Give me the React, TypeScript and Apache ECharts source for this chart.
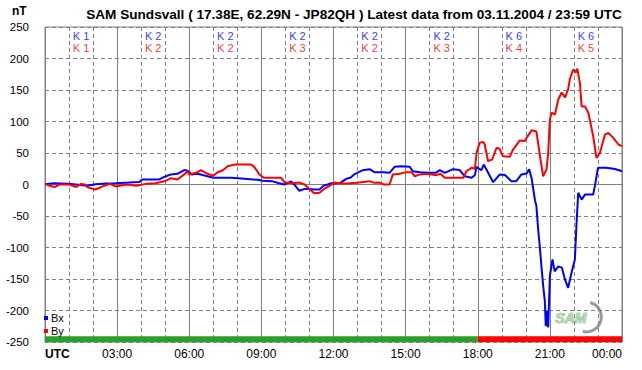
import React, { useEffect, useRef } from "react";
import * as echarts from "echarts";

const titleText = "SAM Sundsvall ( 17.38E, 62.29N - JP82QH ) Latest data from 03.11.2004 / 23:59 UTC";
const xTickLabels = ["UTC", "03:00", "06:00", "09:00", "12:00", "15:00", "18:00", "21:00", "00:00"];

const bxData: number[][] = [
  [0, 0.6], [0.375, 2], [1.0, 1], [1.28, 0], [1.76, -2], [2.11, 0.5], [2.53, 1.6], [2.94, 2],
  [3.5, 3], [3.92, 4], [4.05, 8], [4.75, 8], [4.96, 12], [5.24, 16], [5.51, 17], [5.79, 23],
  [5.93, 22], [6.1, 16], [6.35, 17], [6.76, 13], [7.0, 10.6], [7.74, 10.6], [8.3, 9], [8.85, 7.4],
  [9.05, 5.8], [9.47, 5], [9.74, 2], [9.96, 0], [10.24, 5], [10.4, -1.5], [10.58, -10], [10.8, -7],
  [11.0, -7], [11.2, -8], [11.42, -8], [11.6, -1.5], [11.76, 0], [11.9, 2], [12.1, 1.6], [12.3, 3],
  [12.53, 9], [12.7, 10.6], [12.86, 16], [13.22, 22.7], [13.5, 24.3], [13.7, 19.6], [14.1, 19.6],
  [14.33, 18.5], [14.54, 28], [14.82, 29], [15.17, 28], [15.3, 21], [15.6, 19.6], [15.93, 18.5],
  [16.25, 18.5], [16.42, 22.7], [16.63, 18.5], [16.97, 24.3], [17.25, 23], [17.46, 13], [17.74, 10.6],
  [17.88, 14.8], [17.95, 28], [18.08, 24.3], [18.15, 22.7], [18.25, 31.7], [18.4, 21], [18.64, 3.7],
  [18.92, 16], [19.13, 15], [19.4, 5.3], [19.6, 5.3], [19.82, 16], [20.03, 17.5], [20.14, 24],
  [20.24, 10], [20.38, -25], [20.44, -34], [20.51, -70], [20.58, -98], [20.65, -130], [20.72, -160],
  [20.79, -185], [20.83, -225], [20.88, -200], [20.93, -227], [21.0, -145], [21.11, -119], [21.2, -138],
  [21.35, -130], [21.5, -132], [21.63, -151], [21.76, -164], [21.9, -140], [22.04, -119], [22.11, -61],
  [22.18, -13], [22.32, -24], [22.46, -16], [22.8, -16], [22.87, -3], [23.0, 26.5], [23.35, 26.5],
  [23.71, 24.5], [24.0, 21],
];

const byData: number[][] = [
  [0, 0.6], [0.2, -2], [0.4, -4], [0.6, 0], [1.0, 0], [1.3, -4], [1.5, 1], [1.65, 0], [1.8, -5],
  [2.1, -8], [2.4, -3], [2.7, 1], [2.94, -3], [3.4, 0], [3.8, -2], [4.2, 1], [4.6, 2], [4.96, 5],
  [5.24, 10], [5.51, 8], [5.79, 16], [5.93, 21], [6.0, 16], [6.35, 19.5], [6.49, 22.7], [6.76, 17],
  [7.0, 14], [7.18, 19.5], [7.4, 22.7], [7.6, 29], [7.9, 31.7], [8.57, 31.7], [8.7, 28], [8.92, 16],
  [9.1, 10.6], [9.82, 10.6], [9.96, 3.7], [10.24, 2], [10.58, 3], [10.8, 0], [11.0, -7], [11.2, -14],
  [11.42, -13], [11.6, -7], [11.8, -3], [12.04, 3], [12.3, 1.6], [12.53, 1.6], [13.0, 2.6], [13.5, 5.3],
  [13.7, 2.6], [13.9, 3], [14.1, 0], [14.33, 0], [14.47, 16], [14.75, 17], [15.03, 19.6], [15.25, 19.6],
  [15.38, 13], [15.6, 16], [15.86, 17], [16.28, 14.8], [16.45, 17], [16.63, 10.6], [17.1, 10.6],
  [17.4, 10.6], [17.53, 21], [17.74, 26.5], [17.88, 25], [17.95, 50], [18.08, 66], [18.22, 67.7],
  [18.29, 63.5], [18.43, 37], [18.6, 39.7], [18.78, 58], [18.9, 57], [19.05, 45], [19.33, 44],
  [19.47, 55.5], [19.75, 70], [19.95, 69], [20.1, 78], [20.24, 86], [20.44, 84], [20.61, 40],
  [20.72, 13], [20.86, 24], [20.93, 50], [21.0, 103], [21.07, 114], [21.21, 111], [21.35, 135],
  [21.49, 146], [21.63, 138], [21.76, 151], [21.83, 167], [21.97, 182.5], [22.08, 178], [22.14, 184],
  [22.25, 161], [22.32, 124], [22.46, 124], [22.6, 114], [22.8, 77], [22.94, 42], [23.08, 50],
  [23.29, 79], [23.43, 82], [23.64, 74], [23.85, 63.5], [24.0, 61],
];

const kHours = [1.5, 4.5, 7.5, 10.5, 13.5, 16.5, 19.5, 22.5];
const kBx = [1, 2, 2, 2, 2, 2, 6, 6];
const kBy = [1, 2, 2, 3, 2, 3, 4, 5];
const kRowBx = 235;
const kRowBy = 216;

const statusSegments: [number, number, string][] = [
  [0, 18, "#2a9e2a"],
  [18, 24, "#ff0000"],
];

const FONT = "Liberation Sans, Arial, sans-serif";

export default function App() {
  const ref = useRef<HTMLDivElement>(null);
  useEffect(() => {
    if (!ref.current) return;
    const chart = echarts.init(ref.current, null, { renderer: "svg" });
    const kLabel = (color: string) => ({
      show: true,
      position: "inside",
      formatter: "{b}",
      color,
      fontSize: 11,
      lineHeight: 10,
      fontFamily: FONT,
    });
    chart.setOption({
      animation: false,
      backgroundColor: "#ffffff",
      textStyle: { fontFamily: FONT },
      title: {
        text: titleText,
        left: 349,
        textAlign: "center",
        top: 2,
        textStyle: { fontSize: 13.6, fontWeight: "bold", color: "#000", fontFamily: FONT },
      },
      legend: {
        data: ["Bx", "By"],
        orient: "vertical",
        left: 44,
        top: 312,
        icon: "rect",
        itemWidth: 4,
        itemHeight: 4,
        itemGap: 1,
        padding: 0,
        textStyle: { fontSize: 11, color: "#000", fontFamily: FONT, padding: [0, 0, 0, -2], lineHeight: 12 },
      },
      grid: {
        left: 45,
        top: 27,
        right: 20,
        bottom: 28,
        show: true,
        borderColor: "#808080",
        borderWidth: 1,
        backgroundColor: "transparent",
      },
      xAxis: [
        {
          type: "value",
          min: 0,
          max: 24,
          interval: 1,
          axisLine: { show: false },
          axisTick: { show: false },
          axisLabel: { show: false },
          splitLine: { show: true, lineStyle: { color: "#808080", type: [4, 3], width: 1 } },
        },
        {
          type: "value",
          min: 0,
          max: 24,
          interval: 3,
          position: "bottom",
          axisLine: { show: false },
          axisTick: { show: false },
          splitLine: { show: true, lineStyle: { color: "#808080", type: "solid", width: 1 } },
          axisLabel: {
            show: true,
            margin: 6,
            fontSize: 12,
            color: "#000",
            fontFamily: FONT,
            alignMinLabel: "left",
            alignMaxLabel: "right",
            formatter: (v: number) => {
              const i = Math.round(v / 3);
              return i === 0 ? "{b|" + xTickLabels[0] + "}" : xTickLabels[i];
            },
            rich: { b: { fontWeight: "bold", fontSize: 12, fontFamily: FONT, color: "#000" } },
          },
        },
      ],
      yAxis: {
        type: "value",
        min: -250,
        max: 250,
        interval: 50,
        axisLine: { show: false },
        axisTick: { show: false },
        axisLabel: { fontSize: 11.5, color: "#000", margin: 16, fontFamily: FONT },
        splitLine: { show: true, lineStyle: { color: "#808080", type: [4, 3], width: 1 } },
      },
      graphic: [
        {
          type: "text",
          left: 12,
          top: 5,
          style: { text: "nT", font: "bold 12px " + FONT, fill: "#000" },
        },
        {
          type: "group",
          left: 555,
          top: 300,
          children: [
            {
              type: "arc",
              shape: { cx: 33, cy: 14, r: 15, startAngle: -1.3, endAngle: 1.8 },
              style: { stroke: "#9a9a9a", lineWidth: 3, fill: "none" },
            },
            {
              type: "text",
              x: 2,
              y: 8,
              style: {
                text: "SAM",
                font: "italic bold 14px " + FONT,
                fill: "#b0dcb0",
                stroke: "#6a8a6a",
                lineWidth: 0.6,
              },
            },
          ],
        },
      ],
      series: [
        {
          name: "zero",
          type: "line",
          data: [[0, 0], [24, 0]],
          symbol: "none",
          silent: true,
          lineStyle: { color: "#808080", width: 1, type: "solid" },
          z: 1,
          markArea: {
            silent: true,
            data: statusSegments.map(([a, b, c]) => [
              { xAxis: a, yAxis: -250, itemStyle: { color: c } },
              { xAxis: b, yAxis: -241 },
            ]),
          },
        },
        {
          name: "Bx",
          type: "line",
          data: bxData,
          symbol: "none",
          color: "#0000ff",
          lineStyle: { color: "#0000ff", width: 2 },
          z: 3,
        },
        {
          name: "By",
          type: "line",
          data: byData,
          symbol: "none",
          color: "#ff0000",
          lineStyle: { color: "#ff0000", width: 2 },
          z: 4,
        },
        {
          name: "kbx",
          type: "scatter",
          symbolSize: 0,
          silent: true,
          data: kHours.map((h, i) => ({ value: [h, kRowBx], name: "K " + kBx[i] })),
          label: kLabel("#0000ff"),
        },
        {
          name: "kby",
          type: "scatter",
          symbolSize: 0,
          silent: true,
          data: kHours.map((h, i) => ({ value: [h, kRowBy], name: "K " + kBy[i] })),
          label: kLabel("#ff0000"),
        },
      ],
    });
    return () => chart.dispose();
  }, []);
  return <div ref={ref} style={{ width: 642, height: 370, position: "absolute", left: 0, top: 0 }} />;
}
